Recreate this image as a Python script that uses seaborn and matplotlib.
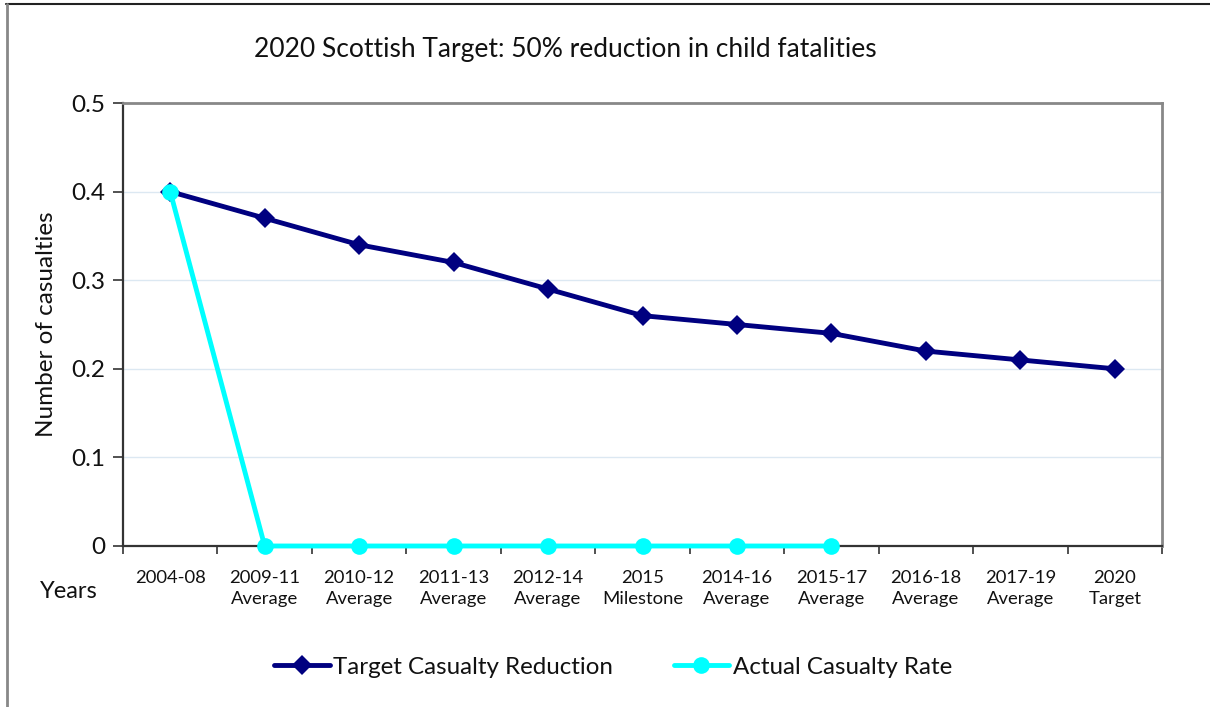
import matplotlib
matplotlib.use("Agg")
import matplotlib.pyplot as plt
from matplotlib.lines import Line2D
from matplotlib.ticker import FixedLocator
import numpy as np
import pandas as pd
import seaborn as sns

periods = ["2004-08", "2009-11\nAverage", "2010-12\nAverage", "2011-13\nAverage",
           "2012-14\nAverage", "2015\nMilestone", "2014-16\nAverage", "2015-17\nAverage",
           "2016-18\nAverage", "2017-19\nAverage", "2020\nTarget"]
target_reduction = [0.40, 0.37, 0.34, 0.32, 0.29, 0.26, 0.25, 0.24, 0.22, 0.21, 0.20]
actual_rate = [0.40, 0, 0, 0, 0, 0, 0, 0, np.nan, np.nan, np.nan]
y_ticks = [0, 0.1, 0.2, 0.3, 0.4, 0.5]
y_labels = ["0", "0.1", "0.2", "0.3", "0.4", "0.5"]

sns.set_theme(style="white")
plt.rcParams["font.family"] = ["Lato", "DejaVu Sans"]

NAVY = "#000080"
CYAN = "#00FFFF"
LW = 3.5

idx = np.arange(len(periods))
df = pd.DataFrame({"pos": idx, "target": target_reduction, "actual": actual_rate})

fig = plt.figure(figsize=(12.10, 7.07), dpi=100)
ax = fig.add_axes([123 / 1210, 1 - 546 / 707, (1162 - 123) / 1210, (546 - 103) / 707])

sns.lineplot(data=df, x="pos", y="target", ax=ax, color=NAVY, lw=LW,
             marker="D", markersize=10, markeredgewidth=0, sort=False, zorder=3,
             clip_on=False)
sns.lineplot(data=df.dropna(), x="pos", y="actual", ax=ax, color=CYAN, lw=LW,
             marker="o", markersize=12, markeredgewidth=0, sort=False, zorder=4,
             clip_on=False)

ax.set_xlim(-0.5, len(periods) - 0.5)
ax.set_ylim(0, 0.5)

ax.set_xticks(idx)
ax.set_xticklabels(periods, fontsize=13.3, color="#111111", linespacing=1.45)
ax.xaxis.set_minor_locator(FixedLocator(np.arange(-0.5, len(periods), 1.0)))
ax.tick_params(axis="x", which="major", length=0, pad=17)
ax.tick_params(axis="x", which="minor", length=6, width=1.2, color="#333333",
               direction="out", bottom=True)

ax.set_yticks(y_ticks)
ax.set_yticklabels(y_labels, fontsize=17.5, color="#111111")
ax.tick_params(axis="y", length=7, width=1.2, color="#333333", direction="out",
               left=True, pad=6)

for y in y_ticks[1:-1]:
    ax.axhline(y, color="#dce8f2", lw=1.0, zorder=0)

for side in ("top", "right"):
    ax.spines[side].set_color("#888888")
    ax.spines[side].set_linewidth(2.0)
for side in ("left", "bottom"):
    ax.spines[side].set_color("#333333")
    ax.spines[side].set_linewidth(1.6)

ax.set_xlabel("")
ax.set_ylabel("Number of casualties", fontsize=17.5, color="#111111", labelpad=10)

fig.text(565 / 1210, 1 - 50 / 707, "2020 Scottish Target: 50% reduction in child fatalities",
         ha="center", va="center", fontsize=19, color="#111111")
fig.text(69 / 1210, 1 - 591 / 707, "Years", ha="center", va="center",
         fontsize=17, color="#111111")

handles = [
    Line2D([], [], color=NAVY, lw=LW, marker="D", markersize=10, markeredgewidth=0),
    Line2D([], [], color=CYAN, lw=LW, marker="o", markersize=12, markeredgewidth=0),
]
fig.legend(handles, ["Target Casualty Reduction", "Actual Casualty Rate"],
           loc="center", bbox_to_anchor=(613 / 1210, 1 - 667 / 707), ncol=2,
           frameon=False, fontsize=17.4, handlelength=2.3, handletextpad=0.15,
           columnspacing=2.5, labelcolor="#111111")

# outer frame of the chart area
fig.add_artist(Line2D([6 / 1210, 1], [1 - 4 / 707, 1 - 4 / 707], transform=fig.transFigure,
                      color="#222222", lw=1.5))
fig.add_artist(Line2D([7 / 1210, 7 / 1210], [0, 1 - 4 / 707], transform=fig.transFigure,
                      color="#888888", lw=2.0))

fig.savefig("out.png", dpi=100, facecolor="white")
